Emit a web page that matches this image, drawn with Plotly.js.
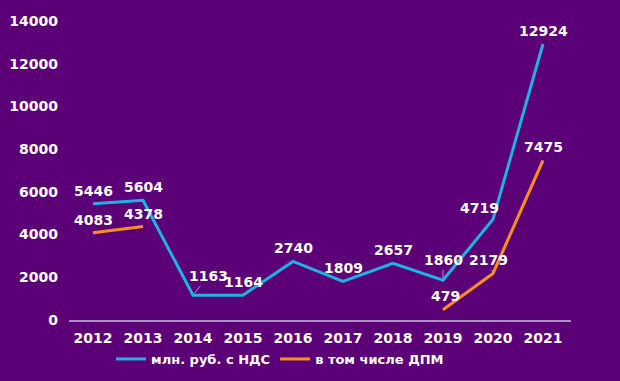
<!DOCTYPE html>
<html>
<head>
<meta charset="utf-8">
<script src="https://cdn.plot.ly/plotly-3.0.1.min.js"></script>
<style>html,body{margin:0;padding:0;background:#5c0078;}</style>
</head>
<body>
<div id="chart" style="width:620px;height:381px;"></div>
<script>
const years = ['2012','2013','2014','2015','2016','2017','2018','2019','2020','2021'];
const totalValues = [5446, 5604, 1163, 1164, 2740, 1809, 2657, 1860, 4719, 12924];
const dpmValues = [4083, 4378, null, null, null, null, null, 479, 2179, 7475];
const seriesNames = ['млн. руб. с НДС', 'в том числе ДПМ'];

const BG = '#5c0078';
const BLUE = '#1db3e3';
const ORANGE = '#f7901e';
const LAV = '#b18cc9';
function F(size) { return {family: 'DejaVu Sans', size: size || 14, color: '#ffffff', weight: 'bold'}; }

// label placement tweaks (pixel offsets) per series & year
const totalOffsets = {'2014': {ax: 15, ay: -19, arrow: true}, '2019': {ax: 0, ay: -20, arrow: true}, '2020': {ax: -14, ay: -11}};
const dpmOffsets = {'2020': {ax: -5, ay: -13, arrow: true}, '2019': {ax: 2, ay: -14}};

function makeAnns(vals, offs) {
  const out = [];
  for (let i = 0; i < vals.length; i++) {
    const v = vals[i];
    if (v === null) continue;
    const o = offs[years[i]] || {ax: 0, ay: -13};
    const a = {x: i, y: v, text: String(v), font: F(14), xref: 'x', yref: 'y'};
    if (o.arrow) {
      a.showarrow = true; a.ax = o.ax; a.ay = o.ay; a.arrowhead = 0; a.arrowwidth = 1; a.arrowcolor = LAV; a.standoff = 2;
    } else {
      a.showarrow = false; a.xshift = o.ax; a.yshift = -o.ay;
    }
    out.push(a);
  }
  return out;
}

const traces = [
  {x: years, y: totalValues, name: seriesNames[0], mode: 'lines', line: {color: BLUE, width: 3}, hoverinfo: 'skip'},
  {x: years, y: dpmValues, name: seriesNames[1], mode: 'lines', line: {color: ORANGE, width: 3}, connectgaps: false, hoverinfo: 'skip'}
];

const layout = {
  width: 620, height: 381,
  paper_bgcolor: BG, plot_bgcolor: BG,
  margin: {l: 69, r: 49, t: 21, b: 61},
  font: F(14),
  showlegend: true,
  legend: {orientation: 'h', x: 111 / 620, xref: 'container', xanchor: 'left', y: (381 - 359) / 381, yref: 'container', yanchor: 'middle',
           font: F(13), bgcolor: 'rgba(0,0,0,0)'},
  xaxis: {type: 'category', range: [-0.48, 9.56], showgrid: false, zeroline: false, showline: true, linecolor: LAV, linewidth: 2,
          ticks: '', tickfont: F(14), ticklabelstandoff: 4},
  yaxis: {range: [0, 14000], dtick: 2000, tickformat: 'd', showgrid: false, zeroline: false, showline: false, ticks: '',
          tickfont: F(14), ticklabelstandoff: 10},
  annotations: makeAnns(totalValues, totalOffsets).concat(makeAnns(dpmValues, dpmOffsets))
};

Plotly.newPlot('chart', traces, layout, {displayModeBar: false});
</script>
</body>
</html>
